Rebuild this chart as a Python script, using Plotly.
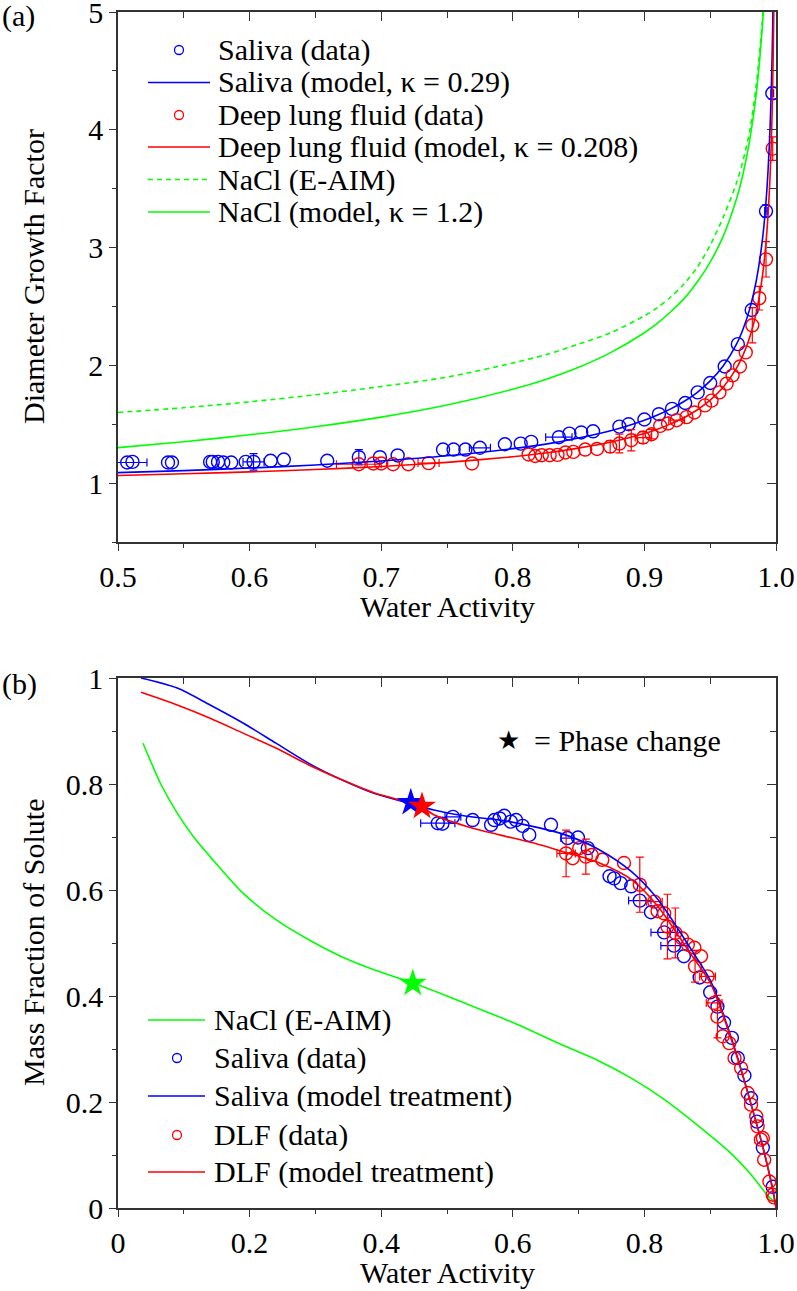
import plotly.graph_objects as go

N = None

# ---------------- Panel (a): diameter growth factor ----------------
saliva_aw = [0.507, 0.511, 0.538, 0.541, 0.570, 0.572, 0.576, 0.580, 0.586, 0.597, 0.603, 0.616, 0.626,
             0.659, 0.683, 0.699, 0.7125, 0.747, 0.755, 0.764, 0.775, 0.794, 0.806, 0.814, 0.835, 0.843,
             0.852, 0.861, 0.881, 0.888, 0.900, 0.911, 0.921, 0.931, 0.9405, 0.950, 0.961, 0.971, 0.9815,
             0.9924, 0.9972]
saliva_gf = [1.175, 1.18, 1.175, 1.175, 1.18, 1.18, 1.18, 1.175, 1.175, 1.18, 1.18, 1.19, 1.20,
             1.19, 1.22, 1.22, 1.235, 1.285, 1.285, 1.285, 1.30, 1.33, 1.335, 1.35, 1.39, 1.42,
             1.43, 1.44, 1.48, 1.50, 1.54, 1.585, 1.63, 1.68, 1.77, 1.85, 1.99, 2.18, 2.47,
             3.31, 4.31]
saliva_gf_xerr = [0.015, N, N, N, N, N, N, N, N, N, 0.008, N, N,
                  N, N, N, N, N, N, N, 0.008, N, N, N, 0.01, N,
                  N, N, N, N, N, N, N, N, N, N, N, N, N,
                  0.001, 0.001]
saliva_gf_yerr = [N, N, N, N, N, N, N, N, N, N, 0.07, N, N,
                  N, 0.065, N, N, N, N, N, N, N, N, N, N, N,
                  N, N, N, N, N, N, N, N, N, N, N, N, N,
                  0.05, 0.05]

dlf_aw = [0.683, 0.694, 0.700, 0.709, 0.7206, 0.736, 0.769, 0.812, 0.817, 0.822, 0.828, 0.834, 0.840,
          0.846, 0.855, 0.864, 0.874, 0.881, 0.890, 0.899, 0.9055, 0.912, 0.918, 0.9245, 0.932, 0.938,
          0.946, 0.951, 0.957, 0.9625, 0.967, 0.9726, 0.977, 0.982, 0.9873, 0.9924, 0.9975]
dlf_gf = [1.16, 1.167, 1.167, 1.16, 1.16, 1.17, 1.167, 1.243, 1.23, 1.237, 1.237, 1.24, 1.26,
          1.265, 1.285, 1.29, 1.31, 1.336, 1.364, 1.387, 1.415, 1.486, 1.506, 1.534, 1.56, 1.60,
          1.66, 1.70, 1.77, 1.845, 1.915, 1.99, 2.11, 2.34, 2.57, 2.90, 3.84]
dlf_gf_xerr = [0.017, N, N, N, N, 0.008, N, N, N, N, N, N, N,
               N, N, N, N, N, N, 0.006, N, N, N, 0.006, N, N,
               N, N, N, N, N, N, N, N, N, N, N]
dlf_gf_yerr = [N, N, N, N, N, N, N, N, N, N, N, N, N,
               N, N, N, 0.05, 0.08, 0.09, 0.05, 0.04, N, N, N, N, N,
               N, N, N, N, N, N, N, 0.15, 0.10, 0.15, 0.10]

saliva_model_aw = [0.5, 0.55, 0.6, 0.65, 0.7, 0.75, 0.8, 0.825, 0.85, 0.875, 0.9, 0.91, 0.92, 0.93,
                   0.94, 0.95, 0.96, 0.97, 0.975, 0.98, 0.985, 0.99, 0.993, 0.995, 0.996, 0.997,
                   0.9975, 0.998]
saliva_model_gf = [1.089, 1.106, 1.128, 1.154, 1.188, 1.232, 1.293, 1.331, 1.383, 1.446, 1.534, 1.578,
                   1.630, 1.693, 1.769, 1.868, 1.997, 2.180, 2.309, 2.477, 2.716, 3.097, 3.480, 3.888,
                   4.185, 4.602, 4.888, 5.263]

dlf_model_aw = [0.5, 0.55, 0.6, 0.65, 0.7, 0.75, 0.8, 0.825, 0.85, 0.875, 0.9, 0.91, 0.92, 0.93,
                0.94, 0.95, 0.96, 0.97, 0.975, 0.98, 0.985, 0.99, 0.993, 0.995, 0.996, 0.997,
                0.9975, 0.998, 0.9985, 0.999]
dlf_model_gf = [1.065, 1.079, 1.095, 1.115, 1.141, 1.176, 1.224, 1.255, 1.297, 1.349, 1.421, 1.458,
                1.503, 1.555, 1.621, 1.704, 1.816, 1.977, 2.089, 2.237, 2.448, 2.785, 3.125, 3.487,
                3.752, 4.123, 4.396, 4.713, 5.194, 5.93]

nacl_model_aw = [0.5, 0.55, 0.6, 0.65, 0.7, 0.75, 0.8, 0.825, 0.85, 0.875, 0.9, 0.91, 0.92, 0.93,
                 0.94, 0.95, 0.96, 0.97, 0.975, 0.98, 0.985, 0.99, 0.992]
nacl_model_gf = [1.301, 1.351, 1.410, 1.478, 1.560, 1.663, 1.797, 1.880, 1.983, 2.112, 2.277, 2.358,
                 2.455, 2.564, 2.705, 2.877, 3.099, 3.414, 3.629, 3.911, 4.305, 4.931, 5.31]

nacl_eaim_aw = [0.5, 0.55, 0.6, 0.65, 0.7, 0.75, 0.8, 0.825, 0.85, 0.875, 0.9, 0.91, 0.92, 0.93,
                0.94, 0.95, 0.96, 0.97, 0.975, 0.98, 0.985, 0.99, 0.992]
nacl_eaim_gf = [1.60, 1.64, 1.69, 1.75, 1.82, 1.90, 2.02, 2.09, 2.18, 2.28, 2.42, 2.49, 2.58, 2.69,
                2.83, 3.02, 3.26, 3.55, 3.74, 3.99, 4.38, 4.98, 5.35]

# ---------------- Panel (b): mass fraction of solute ----------------
saliva_mfs_aw = [0.486, 0.493, 0.509, 0.539, 0.567, 0.572, 0.58, 0.587, 0.597, 0.605, 0.615, 0.625,
                 0.658, 0.683, 0.699, 0.714, 0.747, 0.754, 0.764, 0.78, 0.793, 0.81, 0.83, 0.845,
                 0.86, 0.884, 0.9, 0.911, 0.921, 0.933, 0.942, 0.952, 0.962, 0.971, 0.98, 0.995]
saliva_mfs = [0.726, 0.725, 0.738, 0.732, 0.723, 0.732, 0.735, 0.74, 0.729, 0.732, 0.721, 0.704,
              0.723, 0.698, 0.699, 0.679, 0.626, 0.622, 0.613, 0.607, 0.58, 0.558, 0.52, 0.495,
              0.475, 0.435, 0.407, 0.38, 0.35, 0.321, 0.283, 0.25, 0.207, 0.163, 0.114, 0.04]
saliva_mfs_xerr = [0.026, N, 0.012, N, N, N, N, N, N, N, N, N,
                   N, 0.01, N, N, N, N, N, N, 0.017, N, 0.02, 0.02,
                   N, N, N, N, N, N, N, N, N, N, N, N]
saliva_mfs_yerr = [N] * 36

dlf_mfs_aw = [0.681, 0.691, 0.701, 0.711, 0.72, 0.736, 0.769, 0.793, 0.815, 0.82, 0.83, 0.835, 0.847,
              0.857, 0.866, 0.876, 0.877, 0.886, 0.896, 0.906, 0.911, 0.919, 0.929, 0.937, 0.947,
              0.957, 0.962, 0.97, 0.972, 0.977, 0.98, 0.982, 0.99, 0.995, 0.997]
dlf_mfs = [0.669, 0.66, 0.679, 0.663, 0.666, 0.657, 0.651, 0.61, 0.578, 0.56, 0.556, 0.531, 0.519,
           0.509, 0.497, 0.491, 0.456, 0.475, 0.437, 0.387, 0.361, 0.324, 0.311, 0.283, 0.264,
           0.217, 0.195, 0.173, 0.154, 0.129, 0.132, 0.091, 0.05, 0.025, 0.02]
dlf_mfs_xerr = [0.014, N, N, N, N, N, N, N, 0.012, N, N, N, N,
                N, N, N, N, N, 0.012, 0.012, N, N, N, N, N,
                N, N, N, N, N, N, N, N, N, N]
dlf_mfs_yerr = [0.044, N, N, 0.033, N, N, N, 0.052, N, N, N, 0.061, 0.047,
                N, N, N, 0.03, N, N, N, 0.04, N, N, N, N,
                N, N, N, N, N, N, N, N, N, N]

saliva_treat_aw = [0.035, 0.09, 0.14, 0.19, 0.24, 0.29, 0.34, 0.39, 0.445, 0.48, 0.53, 0.58, 0.63,
                   0.68, 0.73, 0.78, 0.82, 0.87, 0.9, 0.92, 0.94, 0.96, 0.98, 0.995, 1.0]
saliva_treat_mfs = [1.0, 0.981, 0.949, 0.915, 0.877, 0.839, 0.808, 0.782, 0.763, 0.751, 0.739, 0.732,
                    0.72, 0.704, 0.677, 0.635, 0.583, 0.49, 0.43, 0.365, 0.29, 0.205, 0.115, 0.035, 0.0]

dlf_treat_aw = [0.035, 0.09, 0.14, 0.19, 0.24, 0.29, 0.34, 0.39, 0.46, 0.48, 0.53, 0.58, 0.63,
                0.68, 0.73, 0.78, 0.82, 0.87, 0.9, 0.92, 0.94, 0.96, 0.98, 0.995, 1.0]
dlf_treat_mfs = [0.973, 0.949, 0.924, 0.896, 0.868, 0.836, 0.808, 0.783, 0.758, 0.742, 0.72, 0.704,
                 0.689, 0.671, 0.652, 0.62, 0.57, 0.48, 0.425, 0.362, 0.288, 0.205, 0.115, 0.035, 0.0]

nacl_mfs_aw = [0.038, 0.052, 0.065, 0.09, 0.115, 0.14, 0.19, 0.24, 0.29, 0.34, 0.39, 0.45, 0.52, 0.6,
               0.68, 0.73, 0.78, 0.83, 0.88, 0.93, 0.96, 0.99, 0.998]
nacl_mfs = [0.877, 0.836, 0.80, 0.745, 0.700, 0.663, 0.594, 0.544, 0.506, 0.474, 0.449, 0.424, 0.39,
            0.35, 0.305, 0.278, 0.245, 0.205, 0.157, 0.105, 0.066, 0.02, 0.012]

phase_aw = [0.445, 0.462, 0.448]
phase_mfs = [0.765, 0.758, 0.424]
phase_colors = ["#0000ff", "#ff0000", "#00ff00"]

# ---------------- styling ----------------
BLUE, RED, GREEN = "#0000ff", "#ff0000", "#00ff00"
FONT = "Liberation Serif"
FS = 30
AXC = "#333333"

W, H = 797, 1291
PL, PR, PT, PB = 118, 776, 12, 1208          # plot-area edges in page pixels
ML, MR, MT, MB = PL, W - PR, PT, H - PB
PW, PH = PR - PL, PB - PT


def px(xp):
    return (xp - PL) / PW


def py(yp):
    return (PB - yp) / PH


fig = go.Figure()


def marker_trace(x, y, color, xa, ya):
    return go.Scatter(x=x, y=y, mode="markers", xaxis=xa, yaxis=ya, showlegend=False,
                      marker=dict(symbol="circle-open", size=13, color=color,
                                  line=dict(width=1.4, color=color)))


def errbar_traces(x, y, xerr, yerr, color, xa, ya):
    out = []
    for errs, key in ((xerr, "error_x"), (yerr, "error_y")):
        idx = [i for i, e in enumerate(errs) if e is not None]
        if not idx:
            continue
        kw = dict(x=[x[i] for i in idx], y=[y[i] for i in idx], mode="markers", xaxis=xa, yaxis=ya,
                  showlegend=False, hoverinfo="skip",
                  marker=dict(size=1, color="rgba(0,0,0,0)"))
        kw[key] = dict(type="data", array=[errs[i] for i in idx], visible=True, thickness=1.2,
                       width=4, color=color)
        out.append(go.Scatter(**kw))
    return out


def line_trace(x, y, color, xa, ya, dash="solid", shape="spline"):
    return go.Scatter(x=x, y=y, mode="lines", xaxis=xa, yaxis=ya, showlegend=False,
                      line=dict(color=color, width=1.6, dash=dash, shape=shape, smoothing=0.8))


# panel (a)
fig.add_trace(line_trace(nacl_eaim_aw, nacl_eaim_gf, GREEN, "x", "y", dash="5px,4px"))
fig.add_trace(line_trace(nacl_model_aw, nacl_model_gf, GREEN, "x", "y"))
for t in errbar_traces(saliva_aw, saliva_gf, saliva_gf_xerr, saliva_gf_yerr, BLUE, "x", "y"):
    fig.add_trace(t)
fig.add_trace(marker_trace(saliva_aw, saliva_gf, BLUE, "x", "y"))
for t in errbar_traces(dlf_aw, dlf_gf, dlf_gf_xerr, dlf_gf_yerr, RED, "x", "y"):
    fig.add_trace(t)
fig.add_trace(marker_trace(dlf_aw, dlf_gf, RED, "x", "y"))
fig.add_trace(line_trace(saliva_model_aw, saliva_model_gf, BLUE, "x", "y"))
fig.add_trace(line_trace(dlf_model_aw, dlf_model_gf, RED, "x", "y"))

# panel (b)
fig.add_trace(line_trace(nacl_mfs_aw, nacl_mfs, GREEN, "x2", "y2"))
for t in errbar_traces(saliva_mfs_aw, saliva_mfs, saliva_mfs_xerr, saliva_mfs_yerr, BLUE, "x2", "y2"):
    fig.add_trace(t)
fig.add_trace(marker_trace(saliva_mfs_aw, saliva_mfs, BLUE, "x2", "y2"))
for t in errbar_traces(dlf_mfs_aw, dlf_mfs, dlf_mfs_xerr, dlf_mfs_yerr, RED, "x2", "y2"):
    fig.add_trace(t)
fig.add_trace(marker_trace(dlf_mfs_aw, dlf_mfs, RED, "x2", "y2"))
fig.add_trace(line_trace(saliva_treat_aw, saliva_treat_mfs, BLUE, "x2", "y2"))
fig.add_trace(line_trace(dlf_treat_aw, dlf_treat_mfs, RED, "x2", "y2"))
fig.add_trace(go.Scatter(x=phase_aw, y=phase_mfs, mode="markers", xaxis="x2", yaxis="y2", showlegend=False,
                         marker=dict(symbol="star", size=21, color=phase_colors, line=dict(width=0))))

# dummy traces for the mirrored (inside) tick axes
fig.add_trace(go.Scatter(x=[None], y=[None], xaxis="x3", yaxis="y3", showlegend=False, hoverinfo="skip"))
fig.add_trace(go.Scatter(x=[None], y=[None], xaxis="x4", yaxis="y4", showlegend=False, hoverinfo="skip"))

tickfont = dict(family=FONT, size=FS, color="black")
top_dom = [py(542), 1.0]
bot_dom = [0.0, py(678)]


def main_axis(**kw):
    base = dict(showline=True, linecolor=AXC, linewidth=1.5, mirror=True, ticks="outside",
                ticklen=7, tickwidth=1.3, tickcolor=AXC, showgrid=False, zeroline=False,
                tickfont=tickfont, fixedrange=True, automargin=False, ticklabeloverflow="allow")
    base.update(kw)
    return base


def mirror_axis(**kw):
    base = dict(showline=False, ticks="inside", ticklen=9, tickwidth=1.3, tickcolor=AXC,
                showticklabels=False, showgrid=False, zeroline=False, fixedrange=True, automargin=False)
    base.update(kw)
    return base


def minor(kind, **kw):
    d = dict(ticks=kind, ticklen=4 if kind == "outside" else 6, tickwidth=1.3, tickcolor=AXC)
    d.update(kw)
    return d


MAJ_B = [0, 0.2, 0.4, 0.6, 0.8, 1.0]
MIN_B = [0.1, 0.3, 0.5, 0.7, 0.9]

fig.update_layout(
    template="none",
    width=W, height=H,
    margin=dict(l=ML, r=MR, t=MT, b=MB, autoexpand=False),
    paper_bgcolor="white", plot_bgcolor="white",
    font=dict(family=FONT, size=FS, color="black"),
    xaxis=main_axis(domain=[0, 1], anchor="y", range=[0.5, 1.0], tickmode="linear", tick0=0.5, dtick=0.1,
                    tickformat=".1f", minor=minor("outside", tickmode="linear", tick0=0.5, dtick=0.05)),
    yaxis=main_axis(domain=top_dom, anchor="x", range=[0.5, 5.0], tickmode="linear", tick0=1, dtick=1,
                    minor=minor("outside", tickmode="linear", tick0=0.5, dtick=0.5)),
    xaxis3=mirror_axis(overlaying="x", side="top", anchor="y3", range=[0.5, 1.0], tickmode="linear",
                       tick0=0.5, dtick=0.1, minor=minor("inside", tickmode="linear", tick0=0.5, dtick=0.05)),
    yaxis3=mirror_axis(overlaying="y", side="right", anchor="x3", range=[0.5, 5.0], tickmode="linear",
                       tick0=1, dtick=1, minor=minor("inside", tickmode="linear", tick0=0.5, dtick=0.5)),
    xaxis2=main_axis(domain=[0, 1], anchor="y2", range=[0, 1.0], tickmode="array", tickvals=MAJ_B,
                     ticktext=["0", "0.2", "0.4", "0.6", "0.8", "1.0"],
                     minor=minor("outside", tickmode="array", tickvals=MIN_B)),
    yaxis2=main_axis(domain=bot_dom, anchor="x2", range=[0, 1.0], tickmode="array", tickvals=MAJ_B,
                     ticktext=["0", "0.2", "0.4", "0.6", "0.8", "1"],
                     minor=minor("outside", tickmode="array", tickvals=MIN_B)),
    xaxis4=mirror_axis(overlaying="x2", side="top", anchor="y4", range=[0, 1.0], tickmode="array",
                       tickvals=MAJ_B, minor=minor("inside", tickmode="array", tickvals=MIN_B)),
    yaxis4=mirror_axis(overlaying="y2", side="right", anchor="x4", range=[0, 1.0], tickmode="array",
                       tickvals=MAJ_B, minor=minor("inside", tickmode="array", tickvals=MIN_B)),
)

annotations = []
shapes = []


def text(t, xp, yp, xanchor="left", angle=0, size=FS):
    annotations.append(dict(text=t, x=px(xp), y=py(yp), xref="paper", yref="paper", showarrow=False,
                            xanchor=xanchor, yanchor="middle", textangle=angle,
                            font=dict(family=FONT, size=size, color="black")))


# panel labels and axis titles
text("(a)", 0, 16)
text("(b)", 0, 684)
text("Water Activity", 447, 606, xanchor="center")
text("Water Activity", 447, 1272, xanchor="center")
text("Diameter Growth Factor", 33, 277, xanchor="center", angle=-90)
text("Mass Fraction of Solute", 33, 943, xanchor="center", angle=-90)
text("★", 508, 740, xanchor="center", size=26)
text("= Phase change", 532, 740)


def legend_line(x0, x1, yp, color, dash="solid"):
    shapes.append(dict(type="line", xref="paper", yref="paper", x0=px(x0), x1=px(x1), y0=py(yp), y1=py(yp),
                       line=dict(color=color, width=1.6, dash=dash)))


def legend_circle(xc, yp, color):
    shapes.append(dict(type="circle", xref="paper", yref="paper", xsizemode="pixel", ysizemode="pixel",
                       xanchor=px(xc), yanchor=py(yp), x0=-4.5, x1=4.5, y0=-4.5, y1=4.5,
                       line=dict(color=color, width=1.3)))


legend_a = [
    ("circle", BLUE, "solid", "Saliva (data)"),
    ("line", BLUE, "solid", "Saliva (model, κ = 0.29)"),
    ("circle", RED, "solid", "Deep lung fluid (data)"),
    ("line", RED, "solid", "Deep lung fluid (model, κ = 0.208)"),
    ("line", GREEN, "5px,4px", "NaCl (E-AIM)"),
    ("line", GREEN, "solid", "NaCl (model, κ = 1.2)"),
]
rows_a = [50, 82.5, 115, 147, 179.5, 212]
for (kind, color, dash, label), yp in zip(legend_a, rows_a):
    if kind == "circle":
        legend_circle(179, yp, color)
    else:
        legend_line(148, 210, yp, color, dash)
    text(label, 216, yp)

legend_b = [
    ("line", GREEN, "NaCl (E-AIM)"),
    ("circle", BLUE, "Saliva (data)"),
    ("line", BLUE, "Saliva (model treatment)"),
    ("circle", RED, "DLF (data)"),
    ("line", RED, "DLF (model treatment)"),
]
rows_b = [1020, 1058, 1096, 1135, 1172]
for (kind, color, label), yp in zip(legend_b, rows_b):
    if kind == "circle":
        legend_circle(177, yp, color)
    else:
        legend_line(148, 205, yp, color)
    text(label, 212, yp)

fig.update_layout(annotations=annotations, shapes=shapes)

# remove the browser's default 8 px body margin so the figure fills the window exactly
fig.write_html("out.html", config={"displayModeBar": False},
               post_script="document.body.style.margin='0px';document.body.style.overflow='hidden';")
